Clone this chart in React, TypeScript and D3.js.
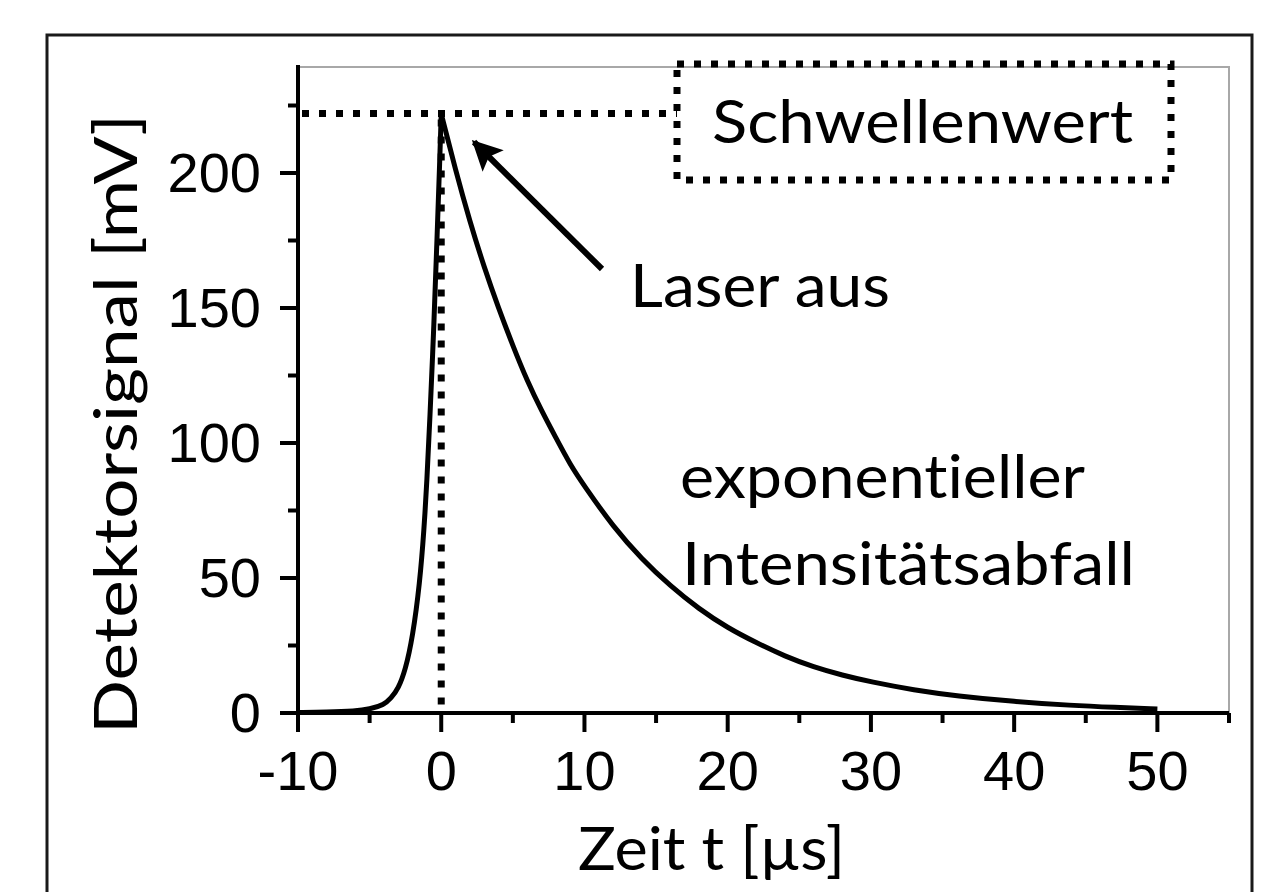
import React, { useEffect, useRef } from 'react';
import * as d3 from 'd3';

// Zeit t [µs] und Detektorsignal [mV]
const riseTime = [-10, -8, -6, -5, -4, -3.5, -3, -2.5, -2, -1.5, -1.2, -1, -0.8, -0.5, -0.3, -0.1, 0];
const riseSignal = [0.2, 0.3, 0.7, 1.4, 3, 5.5, 9, 16, 28, 48, 68, 86, 108, 145, 175, 205, 222];
const decayTime = [0, 1, 2, 3, 4, 5, 6, 7, 8, 9, 10, 12, 14, 16, 18, 20, 22, 24, 26, 28, 30, 33, 36, 40, 44, 47, 50];
const decaySignal = [222, 201, 182, 165, 150, 136, 123, 112, 102, 92, 84, 69, 57, 47, 38.5, 31.5, 26, 21, 17, 14, 11.5, 8.5, 6.3, 4.2, 2.8, 2.1, 1.5];

const xTicks = [-10, 0, 10, 20, 30, 40, 50];
const xMinor = [-5, 5, 15, 25, 35, 45, 55];
const yTicks = [0, 50, 100, 150, 200];
const yMinor = [25, 75, 125, 175, 225];

const schwellenwert = 222;
const xDomain = [-10, 55];
const yDomain = [0, 240];

const W = 1261;
const H = 892;
const calibri = 'Lato, "Open Sans", sans-serif';
const arial = '"Liberation Sans", Arial, sans-serif';

export default function App() {
  const svgRef = useRef<SVGSVGElement>(null);

  useEffect(() => {
    const svg = d3.select(svgRef.current);
    svg.selectAll('*').remove();

    const x = d3.scaleLinear().domain(xDomain).range([298, 1229]);
    const y = d3.scaleLinear().domain(yDomain).range([713, 65]);

    // äußerer Rahmen
    svg.append('path')
      .attr('d', `M47,${H + 5} L47,35 L1252,35 L1252,${H + 5}`)
      .attr('fill', 'none').attr('stroke', '#1a1a1a').attr('stroke-width', 3);

    // graue Plotbox oben/rechts
    svg.append('path')
      .attr('d', `M${x(-10)},${y(240) + 2} L${x(55)},${y(240) + 2} L${x(55)},${y(0)}`)
      .attr('fill', 'none').attr('stroke', '#a8a8a8').attr('stroke-width', 2);

    // Schwellenwert-Linie und t=0
    const dotted = (sel) => sel.attr('fill', 'none').attr('stroke', '#000')
      .attr('stroke-width', 7).attr('stroke-dasharray', '7,10');
    svg.append('line')
      .attr('x1', x(-10) + 4).attr('x2', 677)
      .attr('y1', y(schwellenwert)).attr('y2', y(schwellenwert))
      .call(dotted);
    svg.append('line')
      .attr('x1', x(0)).attr('x2', x(0))
      .attr('y1', y(schwellenwert) + 6).attr('y2', y(0))
      .call(dotted);

    // Box um "Schwellenwert"
    svg.append('rect')
      .attr('x', 677).attr('y', 64).attr('width', 494).attr('height', 116)
      .call(dotted);

    // Kurve
    const line = d3.line().x(d => x(d[0])).y(d => y(d[1])).curve(d3.curveBasis);
    const rise = riseTime.map((t, i) => [t, riseSignal[i]]);
    const decay = decayTime.map((t, i) => [t, decaySignal[i]]);
    [rise, decay].forEach(pts => {
      svg.append('path')
        .attr('d', line(pts))
        .attr('fill', 'none').attr('stroke', '#000').attr('stroke-width', 5)
        .attr('stroke-linejoin', 'round');
    });

    // Achsen
    const gx = svg.append('g');
    gx.append('line').attr('x1', x(-10)).attr('x2', x(55)).attr('y1', y(0)).attr('y2', y(0))
      .attr('stroke', '#000').attr('stroke-width', 4);
    gx.selectAll('.maj').data(xTicks).enter().append('line')
      .attr('x1', d => x(d)).attr('x2', d => x(d)).attr('y1', y(0)).attr('y2', y(0) + 19)
      .attr('stroke', '#000').attr('stroke-width', 4);
    gx.selectAll('.min').data(xMinor).enter().append('line')
      .attr('x1', d => x(d)).attr('x2', d => x(d)).attr('y1', y(0)).attr('y2', y(0) + 10)
      .attr('stroke', '#000').attr('stroke-width', 4);
    gx.selectAll('text').data(xTicks).enter().append('text')
      .attr('x', d => x(d)).attr('y', 790)
      .attr('text-anchor', 'middle')
      .attr('font-family', arial).attr('font-size', 56)
      .text(d => d);

    const gy = svg.append('g');
    gy.append('line').attr('x1', x(-10)).attr('x2', x(-10)).attr('y1', y(0)).attr('y2', y(240))
      .attr('stroke', '#000').attr('stroke-width', 4);
    gy.selectAll('.maj').data(yTicks).enter().append('line')
      .attr('x1', x(-10) - 18).attr('x2', x(-10)).attr('y1', d => y(d)).attr('y2', d => y(d))
      .attr('stroke', '#000').attr('stroke-width', 4);
    gy.selectAll('.min').data(yMinor).enter().append('line')
      .attr('x1', x(-10) - 10).attr('x2', x(-10)).attr('y1', d => y(d)).attr('y2', d => y(d))
      .attr('stroke', '#000').attr('stroke-width', 4);
    gy.selectAll('text').data(yTicks).enter().append('text')
      .attr('x', 261).attr('y', d => y(d) + 19)
      .attr('text-anchor', 'end')
      .attr('font-family', arial).attr('font-size', 56)
      .text(d => d);

    // Texte
    const label = (txt, len) => svg.append('text')
      .attr('font-family', calibri).attr('font-size', 60)
      .style('font-variant-ligatures', 'none')
      .attr('textLength', len).attr('lengthAdjust', 'spacingAndGlyphs')
      .text(txt);

    label('Detektorsignal [mV]', 620)
      .attr('transform', 'translate(137,424) rotate(-90)')
      .attr('text-anchor', 'middle');
    label('Zeit t [µs]', 267).attr('x', 578).attr('y', 870);
    label('Schwellenwert', 421).attr('x', 712).attr('y', 143);
    label('Laser aus', 260).attr('x', 630).attr('y', 307);
    label('exponentieller', 405).attr('x', 680).attr('y', 498);
    label('Intensitätsabfall', 453).attr('x', 682).attr('y', 585);

    // Pfeil
    svg.append('defs').append('marker')
      .attr('id', 'head').attr('viewBox', '0 0 10 10')
      .attr('refX', 9).attr('refY', 5)
      .attr('markerWidth', 5.5).attr('markerHeight', 5)
      .attr('markerUnits', 'strokeWidth')
      .attr('orient', 'auto')
      .append('path').attr('d', 'M0,0 L10,5 L0,10 L2,5 z').attr('fill', '#000');
    svg.append('line')
      .attr('x1', 602).attr('y1', 269).attr('x2', 474).attr('y2', 142)
      .attr('stroke', '#000').attr('stroke-width', 6)
      .attr('marker-end', 'url(#head)');
  }, []);

  return (
    <svg ref={svgRef} width={W} height={H}
      style={{ position: 'absolute', left: 0, top: 0, background: '#fff' }} />
  );
}
